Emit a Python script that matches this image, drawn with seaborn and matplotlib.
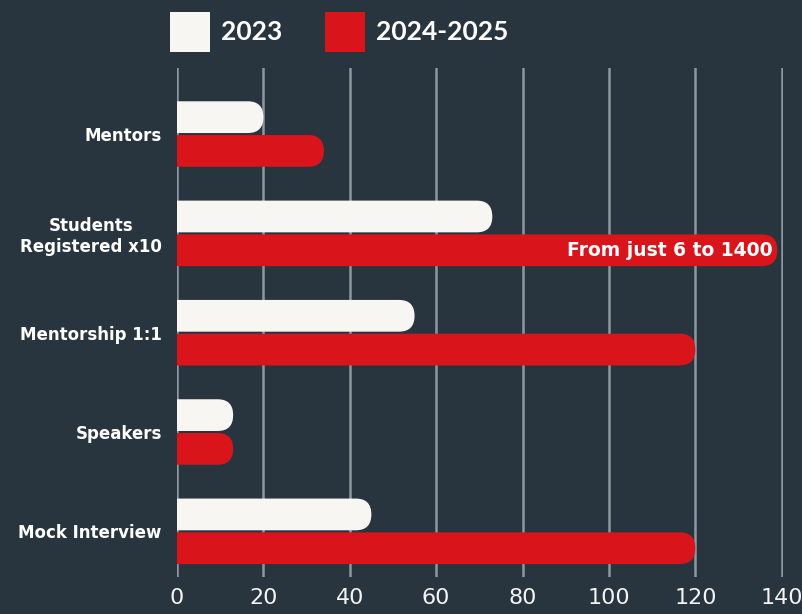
import pandas as pd
import seaborn as sns
import matplotlib.pyplot as plt
from matplotlib.patches import FancyBboxPatch, Patch

sns.set_theme(style='dark')
plt.rcParams['font.family'] = ['Lato', 'DejaVu Sans']

categories = ['Mentors', 'Students\nRegistered x10', 'Mentorship 1:1', 'Speakers', 'Mock Interview']
vals_2023 = [20, 73, 55, 13, 45]
vals_2024 = [34, 139, 120, 13, 120]
years = ['2023', '2024-2025']
xticks = [0, 20, 40, 60, 80, 100, 120, 140]

bg = '#29353e'
white = '#f8f6f2'
red = '#d9141b'

df = pd.DataFrame({
    'category': categories * 2,
    'value': vals_2023 + vals_2024,
    'year': [years[0]] * len(categories) + [years[1]] * len(categories),
})

fig = plt.figure(figsize=(8.03, 6.14), dpi=100, facecolor=bg)
ax = fig.add_axes([177 / 803, 1 - 577 / 614, (783 - 177) / 803, (577 - 68) / 614])
ax.set_facecolor(bg)

sns.barplot(data=df, y='category', x='value', hue='year', orient='h',
            palette=[white, red], width=0.68, saturation=1, legend=False, ax=ax)

ax.set_xlim(0, 140.3)
ax.set_ylim(4.46, -0.665)

# redraw bars with rounded right ends (left end hidden under the y axis)
r = 3.6
for bar in list(ax.patches):
    x, y = bar.get_x(), bar.get_y()
    w, h = bar.get_width(), bar.get_height()
    color = bar.get_facecolor()
    bar.remove()
    hh = h * 0.94
    yy = y + (h - hh) / 2
    fb = FancyBboxPatch((x - r, yy), w + r, hh,
                        boxstyle=f'round,pad=0,rounding_size={r}',
                        mutation_aspect=(hh / 2) / r,
                        facecolor=color, edgecolor='none', zorder=3)
    ax.add_patch(fb)

ax.text(138, 1.17, 'From just 6 to 1400', color='white', fontsize=13.5,
        fontweight='bold', ha='right', va='center', zorder=4,
        family=['DejaVu Sans'])

ax.set_xticks(xticks)
ax.xaxis.grid(True, color='#8d979d', linewidth=1.8, zorder=0)
ax.yaxis.grid(False)
ax.set_axisbelow(True)
for s in ax.spines.values():
    s.set_visible(False)
ax.tick_params(axis='x', colors='#f2f3f3', labelsize=16, pad=8, length=0)
ax.tick_params(axis='y', colors='white', labelsize=12, pad=11, length=0)
for lab in ax.get_xticklabels():
    lab.set_family(['DejaVu Sans'])
for lab in ax.get_yticklabels():
    lab.set_fontweight('bold')
    lab.set_family(['DejaVu Sans'])
    lab.set_multialignment('center')
ax.set_xlabel('')
ax.set_ylabel('')

handles = [Patch(facecolor=white, edgecolor='none'), Patch(facecolor=red, edgecolor='none')]
leg = fig.legend(handles, years, loc='center left', bbox_to_anchor=(170 / 803, 1 - 32 / 614),
                 ncol=2, frameon=False, fontsize=19, handlelength=1.52, handleheight=1.95,
                 handletextpad=0.42, columnspacing=1.6, borderaxespad=0, borderpad=0)
for t in leg.get_texts():
    t.set_color('white')
    t.set_fontweight('bold')

fig.savefig('out.png', dpi=100, facecolor=bg)
